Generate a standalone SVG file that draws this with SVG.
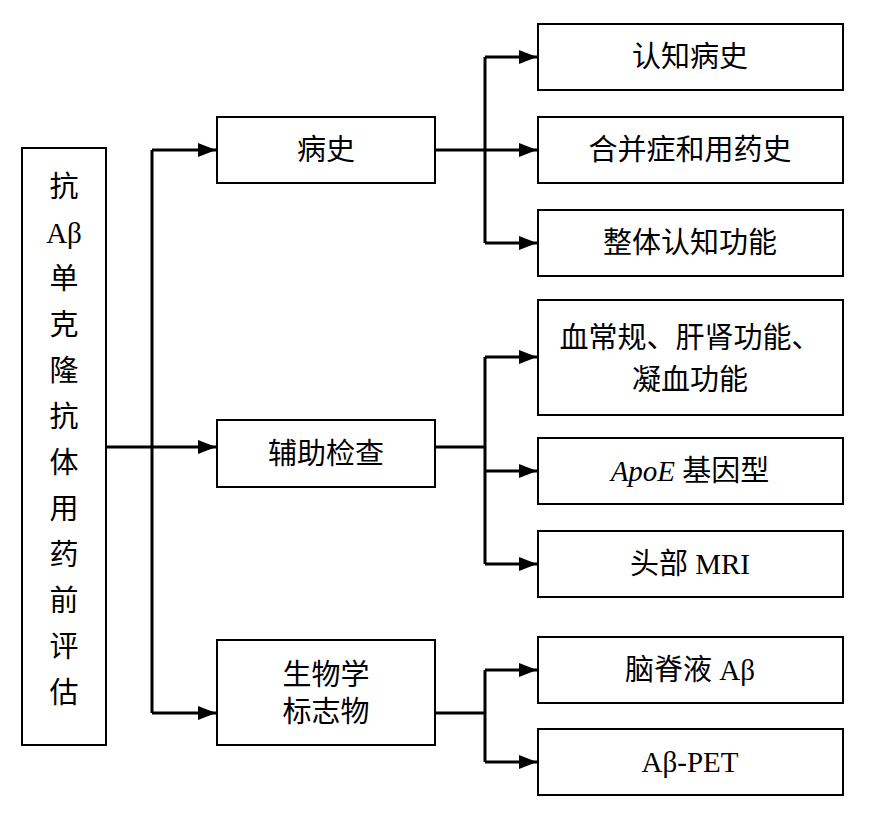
<svg xmlns="http://www.w3.org/2000/svg" width="872" height="814" viewBox="0 0 872 814">
<defs>
<style>
.b{fill:#fff;stroke:#000;stroke-width:2}
.t{font-family:"Liberation Serif","Noto Sans CJK SC",serif;font-size:29px;fill:#000;text-anchor:middle}
.c{fill:none;stroke:#000;stroke-width:3}
</style>
<marker id="a" viewBox="0 0 18 14" refX="18" refY="7" markerWidth="18" markerHeight="14" markerUnits="userSpaceOnUse" orient="auto"><path d="M0,0L18,7L0,14z"/></marker>
</defs>
<rect width="872" height="814" fill="#fff"/>
<g id="connectors">
<path class="c" d="M106,447H152M152,150V713"/>
<line class="c" x1="152" y1="150" x2="216" y2="150" marker-end="url(#a)"/>
<line class="c" x1="152" y1="447" x2="216" y2="447" marker-end="url(#a)"/>
<line class="c" x1="152" y1="713" x2="216" y2="713" marker-end="url(#a)"/>
<path class="c" d="M435,150H485M485,57V243M435,447H485M485,357V564M435,713H485M485,670V762"/>
<line class="c" x1="485" y1="57" x2="537" y2="57" marker-end="url(#a)"/>
<line class="c" x1="485" y1="150" x2="537" y2="150" marker-end="url(#a)"/>
<line class="c" x1="485" y1="243" x2="537" y2="243" marker-end="url(#a)"/>
<line class="c" x1="485" y1="357" x2="537" y2="357" marker-end="url(#a)"/>
<line class="c" x1="485" y1="471" x2="537" y2="471" marker-end="url(#a)"/>
<line class="c" x1="485" y1="564" x2="537" y2="564" marker-end="url(#a)"/>
<line class="c" x1="485" y1="670" x2="537" y2="670" marker-end="url(#a)"/>
<line class="c" x1="485" y1="762" x2="537" y2="762" marker-end="url(#a)"/>
</g>
<g id="root"><rect class="b" x="22" y="148" width="84" height="597"/>
<text class="t"><tspan x="64" y="197">抗</tspan><tspan x="64" y="243">Aβ</tspan><tspan x="64" y="289">单</tspan><tspan x="64" y="335">克</tspan><tspan x="64" y="381">隆</tspan><tspan x="64" y="427">抗</tspan><tspan x="64" y="473">体</tspan><tspan x="64" y="519">用</tspan><tspan x="64" y="565">药</tspan><tspan x="64" y="611">前</tspan><tspan x="64" y="657">评</tspan><tspan x="64" y="703">估</tspan></text></g>
<g id="n1"><rect class="b" x="217" y="117" width="218" height="66"/><text class="t" x="326" y="160">病史</text></g>
<g id="n2"><rect class="b" x="217" y="420" width="218" height="67"/><text class="t" x="326" y="464">辅助检查</text></g>
<g id="n3"><rect class="b" x="217" y="640" width="218" height="105"/><text class="t"><tspan x="326" y="685">生物学</tspan><tspan x="326" y="722">标志物</tspan></text></g>
<g id="r1"><rect class="b" x="538" y="24" width="305" height="66"/><text class="t" x="690" y="67">认知病史</text></g>
<g id="r2"><rect class="b" x="538" y="117" width="305" height="66"/><text class="t" x="690" y="160">合并症和用药史</text></g>
<g id="r3"><rect class="b" x="538" y="210" width="305" height="66"/><text class="t" x="690" y="253">整体认知功能</text></g>
<g id="r4"><rect class="b" x="538" y="300" width="305" height="115"/><text class="t"><tspan x="690" y="348">血常规、肝肾功能、</tspan><tspan x="690" y="390">凝血功能</tspan></text></g>
<g id="r5"><rect class="b" x="538" y="438" width="305" height="66"/><text class="t" x="690" y="481"><tspan font-style="italic">ApoE</tspan> 基因型</text></g>
<g id="r6"><rect class="b" x="538" y="531" width="305" height="66"/><text class="t" x="690" y="574">头部 MRI</text></g>
<g id="r7"><rect class="b" x="538" y="637" width="305" height="66"/><text class="t" x="690" y="680">脑脊液 Aβ</text></g>
<g id="r8"><rect class="b" x="538" y="729" width="305" height="66"/><text class="t" x="690" y="772">Aβ-PET</text></g>
</svg>
